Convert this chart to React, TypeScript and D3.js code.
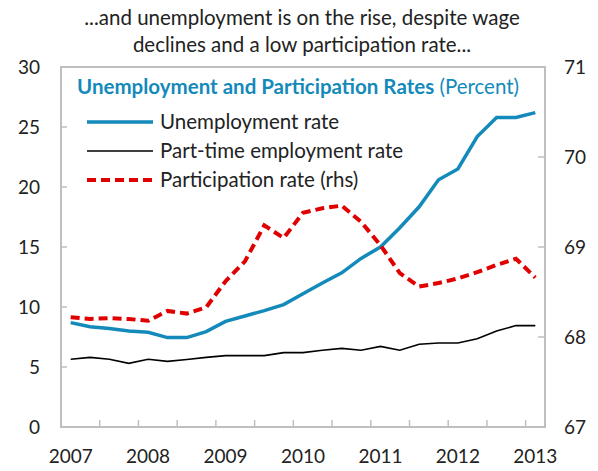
import React, { useEffect } from 'react';
import * as d3 from 'd3';

const quarters = [
  '2007Q1', '2007Q2', '2007Q3', '2007Q4',
  '2008Q1', '2008Q2', '2008Q3', '2008Q4',
  '2009Q1', '2009Q2', '2009Q3', '2009Q4',
  '2010Q1', '2010Q2', '2010Q3', '2010Q4',
  '2011Q1', '2011Q2', '2011Q3', '2011Q4',
  '2012Q1', '2012Q2', '2012Q3', '2012Q4',
  '2013Q1'
];
const yearLabels = ['2007', '2008', '2009', '2010', '2011', '2012', '2013'];

const unemployment = [
  8.7, 8.35, 8.2, 8.0, 7.9, 7.45, 7.45, 7.95, 8.8, 9.25, 9.7, 10.2, 11.1,
  12.0, 12.85, 14.05, 15.0, 16.6, 18.35, 20.6, 21.5, 24.2, 25.8, 25.8, 26.2
];
const partTime = [
  5.65, 5.8, 5.65, 5.3, 5.65, 5.47, 5.62, 5.8, 5.95, 5.95, 5.95, 6.2, 6.2,
  6.4, 6.55, 6.4, 6.72, 6.4, 6.9, 7.0, 7.0, 7.35, 8.0, 8.45, 8.45
];
const participation = [
  68.22, 68.2, 68.21, 68.2, 68.18, 68.29, 68.26, 68.33, 68.62, 68.84, 69.24,
  69.1, 69.38, 69.43, 69.46, 69.28, 69.02, 68.71, 68.56, 68.6, 68.65, 68.72,
  68.8, 68.87, 68.66
];
const leftTicks = [0, 5, 10, 15, 20, 25, 30];
const rightTicks = [67, 68, 69, 70, 71];

const BLUE = '#138ABA';
const RED = '#E00000';
const AXIS = '#BFBFBF';
const FONT = 'Lato, "Open Sans", sans-serif';

const W = 598;
const H = 471;
const plot = { left: 61, right: 545, top: 67, bottom: 427 };

export default function App() {
  useEffect(() => {
    document.body.style.margin = '0';
  }, []);

  const x = d3.scaleBand<string>()
    .domain(quarters)
    .range([plot.left, plot.right]);
  const cx = (i: number) => (x(quarters[i]) || 0) + x.bandwidth() / 2;

  const yL = d3.scaleLinear().domain([0, 30]).range([plot.bottom, plot.top]);
  const yR = d3.scaleLinear().domain([67, 71]).range([plot.bottom, plot.top]);

  const lineL = d3.line<number>().x((_, i) => cx(i)).y(d => yL(d));
  const lineR = d3.line<number>().x((_, i) => cx(i)).y(d => yR(d));

  // tick marks on every second quarter boundary
  const xTicks = quarters.filter((_, i) => i > 0 && i % 2 === 0);

  const legend = [
    { label: 'Unemployment rate', color: BLUE, width: 3.5, dash: undefined },
    { label: 'Part-time employment rate', color: '#000', width: 1.6, dash: undefined },
    { label: 'Participation rate (rhs)', color: RED, width: 4, dash: '9,5' }
  ];

  return (
    <svg width={W} height={H} style={{ position: 'absolute', left: 0, top: 0 }} fontFamily={FONT}>
      <rect x={0} y={0} width={W} height={H} fill="#fff" />

      {/* heading */}
      <text x={302} y={25} textAnchor="middle" fontSize={20.5} fill="#222">
        ...and unemployment is on the rise, despite wage
      </text>
      <text x={302} y={52} textAnchor="middle" fontSize={20.5} fill="#222">
        declines and a low participation rate...
      </text>

      {/* plot frame */}
      <rect x={plot.left} y={plot.top} width={plot.right - plot.left} height={plot.bottom - plot.top}
        fill="none" stroke={AXIS} strokeWidth={2} />

      {/* y ticks */}
      {leftTicks.map(t => (
        <g key={'l' + t}>
          <line x1={plot.left} x2={plot.left + 6} y1={yL(t)} y2={yL(t)} stroke={AXIS} strokeWidth={1.5} />
          <text x={40} y={yL(t)} dy="0.35em" textAnchor="end" fontSize={19} fill="#222">{t}</text>
        </g>
      ))}
      {rightTicks.map(t => (
        <g key={'r' + t}>
          <line x1={plot.right - 7} x2={plot.right} y1={yR(t)} y2={yR(t)} stroke={AXIS} strokeWidth={1.5} />
          <text x={564} y={yR(t)} dy="0.35em" textAnchor="start" fontSize={19} fill="#222">{t}</text>
        </g>
      ))}

      {/* x ticks and labels */}
      {xTicks.map(q => (
        <line key={q} x1={x(q)} x2={x(q)} y1={plot.bottom} y2={plot.bottom - 7} stroke={AXIS} strokeWidth={1.5} />
      ))}
      {yearLabels.map((yr, k) => (
        <text key={yr} x={cx(k * 4)} y={463} textAnchor="middle" fontSize={19} fill="#222">{yr}</text>
      ))}

      {/* inner title */}
      <text x={77} y={94} fontSize={20.5} fill={BLUE}>
        <tspan fontWeight="bold">Unemployment and Participation Rates</tspan>
        <tspan> (Percent)</tspan>
      </text>

      {/* legend */}
      {legend.map((l, i) => (
        <g key={l.label} transform={`translate(0,${122 + i * 29})`}>
          <line x1={87} x2={153} y1={0} y2={0} stroke={l.color} strokeWidth={l.width} strokeDasharray={l.dash} />
          <text x={160} y={0} dy="0.35em" fontSize={20.5} fill="#222">{l.label}</text>
        </g>
      ))}

      {/* series */}
      <path d={lineL(partTime) || ''} fill="none" stroke="#000" strokeWidth={1.6} />
      <path d={lineL(unemployment) || ''} fill="none" stroke={BLUE} strokeWidth={3.5} />
      <path d={lineR(participation) || ''} fill="none" stroke={RED} strokeWidth={4} strokeDasharray="9,5" />
    </svg>
  );
}
